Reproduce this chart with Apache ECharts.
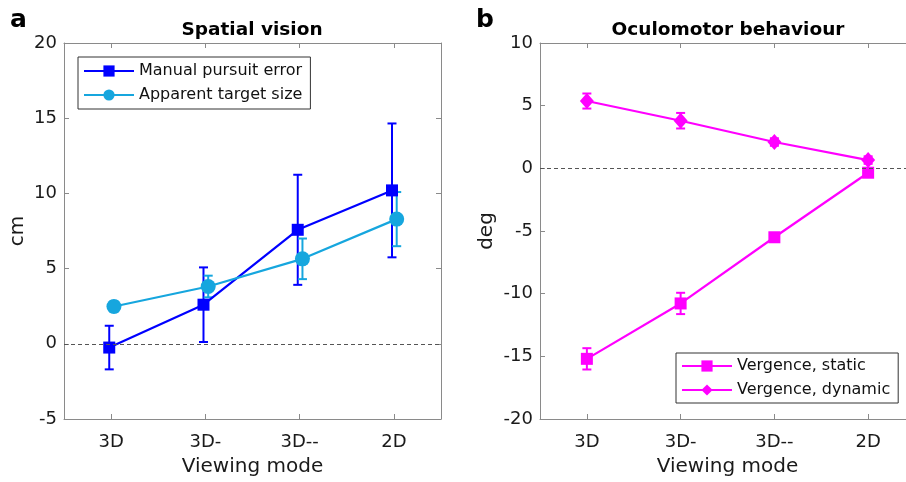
<!DOCTYPE html>
<html>
<head>
<meta charset="utf-8">
<script src="https://cdn.jsdelivr.net/npm/echarts@6/dist/echarts.min.js"></script>
<style>html,body{margin:0;padding:0;background:#fff}#c{width:906px;height:482px}</style>
</head>
<body>
<div id="c"></div>
<script>
// ---- data ----
const categories = ['3D', '3D-', '3D--', '2D'];
const manualMean = [-0.25, 2.6, 7.58, 10.2];
const manualErr = [1.45, 2.48, 3.66, 4.45];
const sizeMean = [2.48, 3.81, 5.65, 8.29];
const sizeErr = [0.35, 0.72, 1.35, 1.8];
const staticMean = [-15.2, -10.78, -5.5, -0.35];
const staticErr = [0.85, 0.85, 0.3, 0.3];
const dynamicMean = [5.37, 3.8, 2.1, 0.66];
const dynamicErr = [0.6, 0.62, 0.3, 0.3];
const leftTicks = [-5, 0, 5, 10, 15, 20];
const rightTicks = [-20, -15, -10, -5, 0, 5, 10];

const BLUE = '#0000ff', CYAN = '#16a6de', MAG = '#ff00ff';
const FONT = 'DejaVu Sans';
const AXC = '#8a8a8a', TXT = '#1a1a1a';

function pts(means, off) { return means.map((m, i) => [i + 1 + off, m]); }
function errs(means, es, off) { return means.map((m, i) => [i + 1 + off, m, es[i]]); }

function errRender(color, capW) {
  return function (params, api) {
    const x = api.value(0), m = api.value(1), e = api.value(2);
    const t = api.coord([x, m + e]), b = api.coord([x, m - e]);
    const s = { stroke: color, lineWidth: 2 };
    return { type: 'group', children: [
      { type: 'line', shape: { x1: t[0], y1: t[1], x2: b[0], y2: b[1] }, style: s },
      { type: 'line', shape: { x1: t[0] - capW / 2, y1: t[1], x2: t[0] + capW / 2, y2: t[1] }, style: s },
      { type: 'line', shape: { x1: b[0] - capW / 2, y1: b[1], x2: b[0] + capW / 2, y2: b[1] }, style: s }
    ]};
  };
}

function xAx(gi, pos, showLabel, name) {
  return {
    type: 'value', gridIndex: gi, position: pos, min: 0.5, max: 4.5,
    axisLine: { show: true, onZero: false, lineStyle: { color: AXC, width: 1 } },
    splitLine: { show: false },
    axisTick: { show: true, inside: true, length: 5, customValues: [1, 2, 3, 4], lineStyle: { color: AXC } },
    axisLabel: { show: showLabel, customValues: [1, 2, 3, 4], margin: 14, color: TXT, fontFamily: FONT, fontSize: 18,
      formatter: v => categories[Math.round(v) - 1] || '' },
    name: name || '', nameLocation: 'middle', nameGap: 38,
    nameTextStyle: { color: TXT, fontFamily: FONT, fontSize: 20 }
  };
}
function yAx(gi, pos, min, max, showLabel, name, gap) {
  return {
    type: 'value', gridIndex: gi, position: pos, min: min, max: max, interval: 5,
    axisLine: { show: true, onZero: false, lineStyle: { color: AXC, width: 1 } },
    splitLine: { show: false },
    axisTick: { show: true, inside: true, length: 5, lineStyle: { color: AXC } },
    axisLabel: { show: showLabel, margin: 7, color: TXT, fontFamily: FONT, fontSize: 18 },
    name: name || '', nameLocation: 'middle', nameGap: gap || 30,
    nameTextStyle: { color: TXT, fontFamily: FONT, fontSize: 20 }
  };
}

const zeroLine = { silent: true, symbol: 'none', label: { show: false },
  lineStyle: { color: '#555', type: [4, 3], width: 1 }, data: [{ yAxis: 0 }] };

const option = {
  backgroundColor: '#fff',
  animation: false,
  grid: [
    { left: 64, top: 43, width: 377, height: 376, outerBoundsMode: 'none', containLabel: false },
    { left: 540, top: 43, width: 375, height: 376, outerBoundsMode: 'none', containLabel: false }
  ],
  xAxis: [
    xAx(0, 'bottom', true, 'Viewing mode'), xAx(0, 'top', false),
    xAx(1, 'bottom', true, 'Viewing mode'), xAx(1, 'top', false)
  ],
  yAxis: [
    yAx(0, 'left', -5, 20, true, 'cm', 36), yAx(0, 'right', -5, 20, false),
    yAx(1, 'left', -20, 10, true, 'deg', 43)
  ],
  legend: [
    { left: 78, top: 57, orient: 'vertical', data: ['Manual pursuit error', 'Apparent target size'],
      borderColor: '#333', borderWidth: 1, padding: [6, 8, 6, 5], itemGap: 8, itemWidth: 50, itemHeight: 14,
      textStyle: { fontFamily: FONT, fontSize: 16, color: '#111' } },
    { left: 676, top: 353, orient: 'vertical', data: ['Vergence, static', 'Vergence, dynamic'],
      borderColor: '#333', borderWidth: 1, padding: [5, 8, 5, 5], itemGap: 8, itemWidth: 50, itemHeight: 14,
      textStyle: { fontFamily: FONT, fontSize: 16, color: '#111' } }
  ],
  graphic: [
    { type: 'text', x: 10, y: 20, style: { text: 'a', font: 'bold 25px "DejaVu Sans"', fill: '#000', textVerticalAlign: 'middle' } },
    { type: 'text', x: 476, y: 20, style: { text: 'b', font: 'bold 25px "DejaVu Sans"', fill: '#000', textVerticalAlign: 'middle' } },
    { type: 'text', x: 252, y: 30, style: { text: 'Spatial vision', font: 'bold 18.5px "DejaVu Sans"', fill: '#000', textAlign: 'center', textVerticalAlign: 'middle' } },
    { type: 'text', x: 728, y: 30, style: { text: 'Oculomotor behaviour', font: 'bold 18.5px "DejaVu Sans"', fill: '#000', textAlign: 'center', textVerticalAlign: 'middle' } }
  ],
  series: [
    { type: 'custom', name: 'e1', xAxisIndex: 0, yAxisIndex: 0, renderItem: errRender(BLUE, 9), data: errs(manualMean, manualErr, -0.02), z: 2 },
    { type: 'custom', name: 'e2', xAxisIndex: 0, yAxisIndex: 0, renderItem: errRender(CYAN, 9), data: errs(sizeMean, sizeErr, 0.03), z: 2 },
    { type: 'line', name: 'Manual pursuit error', xAxisIndex: 0, yAxisIndex: 0, data: pts(manualMean, -0.02),
      symbol: 'rect', symbolSize: 12, color: BLUE, lineStyle: { width: 2.2, color: BLUE }, itemStyle: { color: BLUE }, z: 3,
      markLine: zeroLine },
    { type: 'line', name: 'Apparent target size', xAxisIndex: 0, yAxisIndex: 0, data: pts(sizeMean, 0.03),
      symbol: 'circle', symbolSize: 15, color: CYAN, lineStyle: { width: 2.2, color: CYAN }, itemStyle: { color: CYAN }, z: 3 },
    { type: 'custom', name: 'e3', xAxisIndex: 2, yAxisIndex: 2, renderItem: errRender(MAG, 9), data: errs(staticMean, staticErr, 0), z: 2 },
    { type: 'custom', name: 'e4', xAxisIndex: 2, yAxisIndex: 2, renderItem: errRender(MAG, 9), data: errs(dynamicMean, dynamicErr, 0), z: 2 },
    { type: 'line', name: 'Vergence, static', xAxisIndex: 2, yAxisIndex: 2, data: pts(staticMean, 0),
      symbol: 'rect', symbolSize: 12, color: MAG, lineStyle: { width: 2.2, color: MAG }, itemStyle: { color: MAG }, z: 3,
      markLine: zeroLine },
    { type: 'line', name: 'Vergence, dynamic', xAxisIndex: 2, yAxisIndex: 2, data: pts(dynamicMean, 0),
      symbol: 'diamond', symbolSize: [14, 16], color: MAG, lineStyle: { width: 2.2, color: MAG }, itemStyle: { color: MAG }, z: 3 }
  ]
};
const chart = echarts.init(document.getElementById('c'), null, { renderer: 'canvas' });
chart.setOption(option);
</script>
</body>
</html>
